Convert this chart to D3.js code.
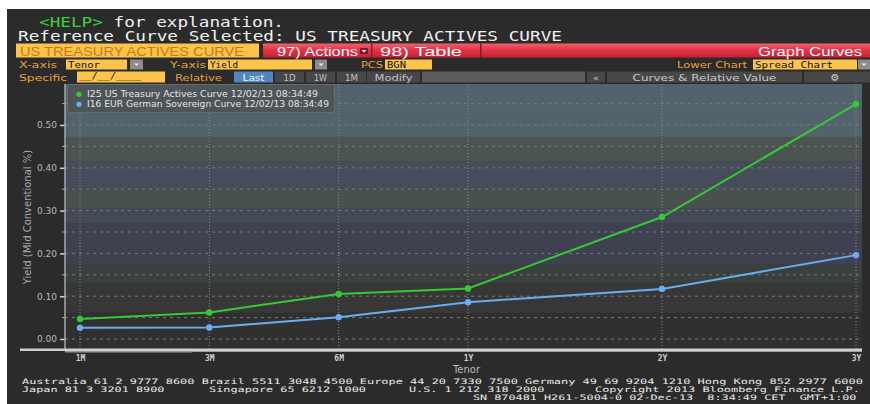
<!DOCTYPE html>
<html><head><meta charset="utf-8">
<script src="https://cdn.jsdelivr.net/npm/d3@7/dist/d3.min.js"></script>
<style>html,body{margin:0;padding:0;background:#fff;}svg{display:block;}</style>
</head><body><svg id="c" width="870" height="404"></svg>
<script>
// ---- data ----
const tenors = ["1M","3M","6M","1Y","2Y","3Y"];
const tenorPos = [0,1,2,3,4.5,6];           // axis slot of each tenor
const usYield = [0.047,0.062,0.105,0.118,0.285,0.549];
const deYield = [0.026,0.027,0.051,0.086,0.117,0.196];
const yTicks = [0,0.1,0.2,0.3,0.4,0.5];
const yMinor = [0.05,0.15,0.25,0.35,0.45,0.55];
const seriesNames = ["I25 US Treasury Actives Curve 12/02/13 08:34:49","I16 EUR German Sovereign Curve 12/02/13 08:34:49"];
const seriesColors = ["#35c935","#6aaef0"];
// background zones (yield units, top/bottom)
const zoneTop = [0.60,0.472,0.414,0.348,0.306,0.271,0.173,0.131,0.061];
const zoneBot = [0.472,0.414,0.348,0.306,0.271,0.173,0.131,0.061,-0.03];
const zoneCol = ["#52636d","#4c5451","#464c59","#495050","#434957","#3f4150","#3a403e","#373737","#303030"];

const svg = d3.select("#c");
const BG = "#2b2b2b";
svg.append("rect").attr("x",7).attr("y",9).attr("width",863).attr("height",395).attr("fill",BG);

const L=65,R=862,T=84,B=350;
const x = d3.scaleLinear().domain([0,6]).range([80,856]);
const y = d3.scaleLinear().domain([0,0.5]).range([339,125]);

// zones
const plot = svg.append("g");
plot.selectAll("rect.z").data(zoneTop).enter().append("rect")
  .attr("x",L).attr("width",R-L)
  .attr("y",(d)=>Math.max(T,y(d)))
  .attr("height",(d,i)=>Math.min(B,y(zoneBot[i]))-Math.max(T,y(d)))
  .attr("fill",(d,i)=>zoneCol[i]);

// horizontal grid
plot.selectAll("line.hg").data(yTicks.concat(yMinor)).enter().append("line")
  .attr("x1",L).attr("x2",R).attr("y1",d=>y(d)).attr("y2",d=>y(d))
  .attr("stroke","#7a7a7a").attr("stroke-width",1).attr("stroke-dasharray","3,4");
// vertical grid
plot.selectAll("line.vg").data(tenorPos).enter().append("line")
  .attr("x1",d=>x(d)).attr("x2",d=>x(d)).attr("y1",T).attr("y2",B)
  .attr("stroke","#8a8a8a").attr("stroke-width",1).attr("stroke-dasharray","1,2");

// y axis
const yAxis = d3.axisLeft(y).tickValues(yTicks).tickFormat(d3.format(".2f")).tickSize(5).tickPadding(3);
const ya = svg.append("g").attr("transform",`translate(${L},0)`).call(yAxis);
ya.select(".domain").remove();
ya.selectAll(".tick line").attr("stroke","#d0d0d0").attr("stroke-width",1.5);
ya.selectAll(".tick text").attr("fill","#b8b8b8").attr("font-family","DejaVu Sans").attr("font-size",9);
svg.append("g").selectAll("line").data(yMinor).enter().append("line")
  .attr("x1",L-3).attr("x2",L).attr("y1",d=>y(d)).attr("y2",d=>y(d)).attr("stroke","#aaa");
svg.append("line").attr("x1",L).attr("x2",L).attr("y1",T).attr("y2",B).attr("stroke","#a8a8a8").attr("stroke-width",1.5);

// x axis line
svg.append("rect").attr("x",20).attr("y",348.5).attr("width",R-20).attr("height",2.5).attr("fill","#cfcfcf");
svg.append("rect").attr("x",L).attr("y",351).attr("width",127).attr("height",1.5).attr("fill","#9a9a9a");
svg.append("rect").attr("x",192).attr("y",351).attr("width",R-192).attr("height",1).attr("fill","#8fa4b0");

const xAxis = d3.axisBottom(x).tickValues(tenorPos).tickFormat((d,i)=>tenors[i]).tickSize(0).tickPadding(5);
const xa = svg.append("g").attr("transform",`translate(0,${B})`).call(xAxis);
xa.select(".domain").remove();
xa.selectAll(".tick text").attr("fill","#d0d0d0").attr("font-family","DejaVu Sans Mono").attr("font-size",8).attr("font-weight","bold");

svg.append("text").attr("x",(L+R)/2+3).attr("y",373).attr("text-anchor","middle")
  .attr("fill","#b8b8b8").attr("font-family","DejaVu Sans").attr("font-size",10).text("Tenor");
svg.append("text").attr("transform",`translate(31,${217}) rotate(-90)`).attr("text-anchor","middle")
  .attr("fill","#aaaaaa").attr("font-family","DejaVu Sans").attr("font-size",10).text("Yield (Mid Conventional %)");

// series
const series = [usYield, deYield];
const line = d3.line().x((d,i)=>x(tenorPos[i])).y(d=>y(d));
series.forEach((s,k)=>{
  svg.append("path").datum(s).attr("d",line).attr("fill","none")
    .attr("stroke",seriesColors[k]).attr("stroke-width",2);
  svg.append("g").selectAll("circle").data(s).enter().append("circle")
    .attr("cx",(d,i)=>x(tenorPos[i])).attr("cy",d=>y(d)).attr("r",3.2).attr("fill",seriesColors[k]);
});

// legend
const lg = svg.append("g");
lg.append("rect").attr("x",67.5).attr("y",84.5).attr("width",267).attr("height",28).attr("rx",2)
  .attr("fill","rgba(78,84,88,0.92)").attr("stroke","#6c6c6c");
seriesNames.forEach((n,k)=>{
  lg.append("circle").attr("cx",79).attr("cy",94.3+k*10).attr("r",2.6).attr("fill",seriesColors[k]);
  lg.append("text").attr("x",87).attr("y",97.3+k*10).attr("fill","#e4e4e4")
    .attr("font-family","DejaVu Sans").attr("font-size",8)
    .attr("textLength",k===0?231:242).attr("lengthAdjust","spacingAndGlyphs").text(n);
});

// ---- header ----
function mono(g,t,x0,yb,len,size,fill){
  return g.append("text").attr("x",x0).attr("y",yb).attr("fill",fill).attr("font-family","DejaVu Sans Mono")
    .attr("font-size",size).attr("textLength",len).attr("lengthAdjust","spacingAndGlyphs").attr("xml:space","preserve").text(t);
}
const h = svg.append("g");
const t1 = h.append("text").attr("x",39).attr("y",26.5).attr("font-family","DejaVu Sans Mono").attr("font-size",14)
  .attr("textLength",245).attr("lengthAdjust","spacingAndGlyphs");
t1.append("tspan").attr("fill","#3ccf3c").text("<HELP>");
t1.append("tspan").attr("fill","#f0f0f0").text(" for explanation.");
mono(h,"Reference Curve Selected: US TREASURY ACTIVES CURVE",18,41,544,14,"#f0f0f0");

// row 3
const rg = h.append("defs").append("linearGradient").attr("id","red").attr("x1",0).attr("y1",0).attr("x2",0).attr("y2",1);
rg.append("stop").attr("offset","0").attr("stop-color","#f2606c");
rg.append("stop").attr("offset","0.45").attr("stop-color","#e33447");
rg.append("stop").attr("offset","1").attr("stop-color","#c72036");
h.append("rect").attr("x",16).attr("y",43.5).attr("width",243).attr("height",14).attr("fill","#fcc44a");
h.append("text").attr("x",20).attr("y",55.5).attr("fill","#c9791a").attr("font-family","Liberation Sans").attr("font-size",13.5)
  .attr("textLength",224).attr("lengthAdjust","spacingAndGlyphs").text("US TREASURY ACTIVES CURVE");
h.append("rect").attr("x",263).attr("y",43.5).attr("width",607).attr("height",14).attr("fill","url(#red)");
[371,480].forEach(xx=>h.append("rect").attr("x",xx).attr("y",43.5).attr("width",1.5).attr("height",14).attr("fill","#8a1a28"));
h.append("text").attr("x",277).attr("y",55.5).attr("fill","#fff").attr("font-family","Liberation Sans").attr("font-size",13.5)
  .attr("textLength",81).attr("lengthAdjust","spacingAndGlyphs").text("97) Actions");
h.append("rect").attr("x",360).attr("y",48).attr("width",8).attr("height",6).attr("fill","#7a1a26");
h.append("path").attr("d","M361.5,50 L366.5,50 L364,52.5 Z").attr("fill","#fff");
h.append("text").attr("x",380).attr("y",55.5).attr("fill","#fff").attr("font-family","Liberation Sans").attr("font-size",13.5)
  .attr("textLength",82).attr("lengthAdjust","spacingAndGlyphs").text("98) Table");
h.append("text").attr("x",862).attr("y",55.5).attr("text-anchor","end").attr("fill","#fff").attr("font-family","Liberation Sans").attr("font-size",13.5)
  .attr("textLength",104).attr("lengthAdjust","spacingAndGlyphs").text("Graph Curves");

// row 4 & 5
function lab(t,x0,yb,len){ h.append("text").attr("x",x0).attr("y",yb).attr("fill","#eaa22e").attr("font-family","DejaVu Sans")
  .attr("font-size",9.5).attr("textLength",len).attr("lengthAdjust","spacingAndGlyphs").text(t); }
function ybox(x0,y0,w,hh,t,len,off){ h.append("rect").attr("x",x0).attr("y",y0).attr("width",w).attr("height",hh).attr("fill","#fcc44a");
  if(t) mono(h,t,x0+2,y0+hh-(off||2),len,9,"#111"); }
function dd(x0,y0,w,hh){ h.append("rect").attr("x",x0).attr("y",y0).attr("width",w).attr("height",hh).attr("fill","#8c8c8c");
  h.append("path").attr("d",`M${x0+w/2-2.5},${y0+hh/2-1} L${x0+w/2+2.5},${y0+hh/2-1} L${x0+w/2},${y0+hh/2+1.5} Z`).attr("fill","#eee"); }
function btn(x0,y0,w,hh,t,fill,tc,len){ h.append("rect").attr("x",x0).attr("y",y0).attr("width",w).attr("height",hh).attr("fill",fill);
  if(t) h.append("text").attr("x",x0+w/2).attr("y",y0+hh-2).attr("text-anchor","middle").attr("fill",tc)
    .attr("font-family","DejaVu Sans").attr("font-size",9.5).attr("textLength",len).attr("lengthAdjust","spacingAndGlyphs").text(t); }

lab("X-axis",19,68,38); ybox(66,59.5,61,10,"Tenor",32); dd(130,59.5,13,10);
lab("Y-axis",170,68,36); ybox(208,59.5,104,10,"Yield",28); dd(315,59.5,12,10);
lab("PCS",361,68,22); ybox(385,59.5,47,10,"BGN",19);
lab("Lower Chart",677,68,70); ybox(753,59.5,104,10,"Spread Chart",78); dd(858,59.5,12,10);

lab("Specific",19,81,48); ybox(77,71.5,88,11,"__/__/____",62,3.5);
lab("Relative",175,81,47);
btn(234,71.5,39,11,"Last","#4f86c0","#f4f4f4",22);
btn(275,71.5,29,11,"1D","#474747","#c4c4c4",12);
btn(306,71.5,29,11,"1W","#474747","#c4c4c4",13);
btn(337,71.5,29,11,"1M","#474747","#c4c4c4",13);
btn(367,71.5,53,11,"Modify","#474747","#c4c4c4",38);
btn(422,71.5,163,11,"","#5c5c5c","#ccc",0);
btn(587,71.5,18,11,"«","#474747","#c4c4c4",6);
btn(607,71.5,195,11,"Curves & Relative Value","#474747","#c8c8c8",144);
btn(804,71.5,66,11,"","#474747","#ccc",0);
h.append("text").attr("x",835).attr("y",81).attr("text-anchor","middle").attr("fill","#d0d0d0")
  .attr("font-family","DejaVu Sans").attr("font-size",10).text("⚙");

// footer
const f = svg.append("g");
const cw = 7.2;
function ft(t,x0,yb){ mono(f,t,x0,yb,t.length*cw-1.5,7.5,"#ececec"); }
ft("Australia 61 2 9777 8600 Brazil 5511 3048 4500 Europe 44 20 7330 7500 Germany 49 69 9204 1210 Hong Kong 852 2977 6000",22,383.5);
ft("Japan 81 3 3201 8900",22,391.5);
ft("Singapore 65 6212 1000",209,391.5);
ft("U.S. 1 212 318 2000",409,391.5);
ft("Copyright 2013 Bloomberg Finance L.P.",595,391.5);
const sn="SN 870481 H261-5004-0 02-Dec-13  8:34:49 CET  GMT+1:00";
mono(f,sn,858-sn.length*7.13,399.5,sn.length*7.13-1.5,7.5,"#ececec");
</script></body></html>
